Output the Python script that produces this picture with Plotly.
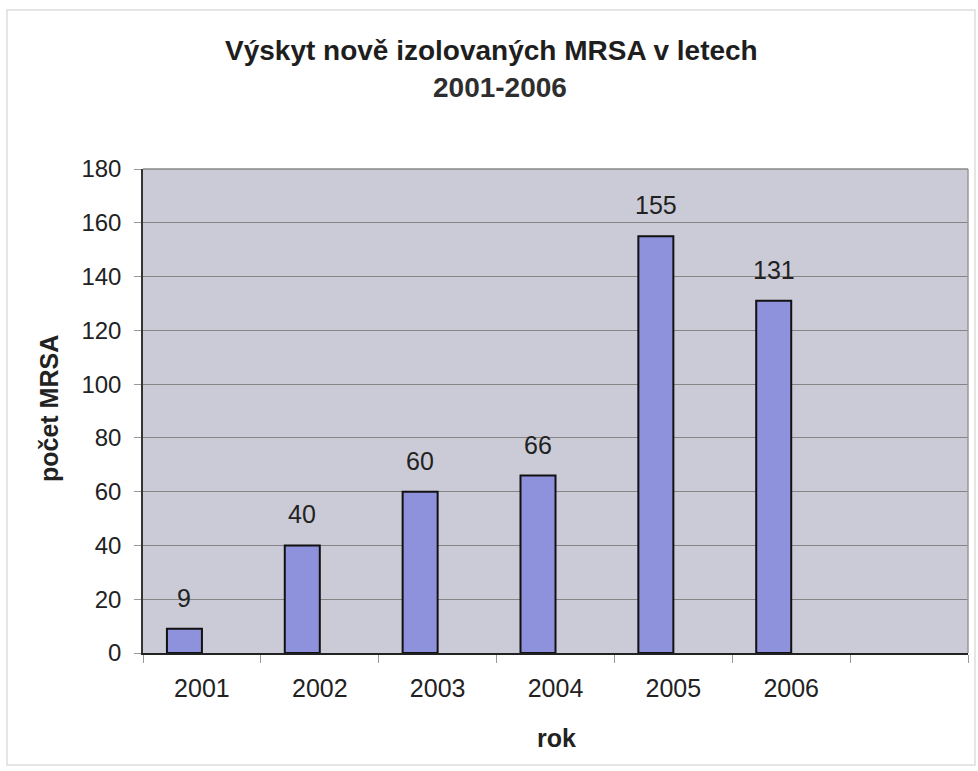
import plotly.graph_objects as go

years = ["2001", "2002", "2003", "2004", "2005", "2006"]
counts = [9, 40, 60, 66, 155, 131]
all_slots = years + [" "]
y_ticks = [0, 20, 40, 60, 80, 100, 120, 140, 160, 180]

title_line1 = "Výskyt nově izolovaných MRSA v letech"
title_line2 = "2001-2006"
y_title = "počet MRSA"
x_title = "rok"

W, H = 978, 771
L, R, T, B = 143, 968, 169, 653
pw, ph = R - L, B - T

def px(x):
    return (x - L) / pw

def py(y):
    return (B - y) / ph

font_family = "Liberation Sans, Arial, sans-serif"
bar_w = 0.297

fig = go.Figure()
fig.add_trace(go.Bar(
    x=years, y=counts,
    width=bar_w, offset=-bar_w,
    marker=dict(color="#8e92dc", line=dict(color="#111111", width=2)),
    hoverinfo="x+y",
))

label_anns = [
    dict(text=str(c), x=all_slots.index(yr) - bar_w / 2, y=c, xref="x", yref="y", yshift=31,
         xanchor="center", yanchor="middle", showarrow=False,
         font=dict(size=25, color="#222222"))
    for yr, c in zip(years, counts)
]

fig.update_layout(
    width=W, height=H,
    margin=dict(l=L, r=W - R, t=T, b=H - B, pad=0),
    paper_bgcolor="white", plot_bgcolor="#cbcbd7",
    showlegend=False,
    font=dict(family=font_family, color="#222222"),
    xaxis=dict(
        type="category", categoryorder="array", categoryarray=all_slots,
        range=[-0.5, 6.5], tickson="boundaries", ticks="outside",
        ticklen=8, tickcolor="#999999", showgrid=False,
        showline=True, linecolor="#222222", linewidth=2,
        tickfont=dict(size=25, color="#222222"),
        ticklabelstandoff=12,
    ),
    yaxis=dict(
        range=[0, 180], tickvals=y_ticks, ticks="outside", ticklen=7,
        tickcolor="#999999", showgrid=True, gridcolor="#858585", gridwidth=1,
        showline=True, linecolor="#333333", linewidth=1.5,
        zeroline=False,
        tickfont=dict(size=24, color="#222222"),
        ticklabelstandoff=8,
    ),
    annotations=label_anns + [
        dict(text="<b>" + title_line1 + "</b>", x=px(491), y=py(50), xref="paper", yref="paper",
             xanchor="center", yanchor="middle", showarrow=False,
             font=dict(size=28, color="#1e1e1e")),
        dict(text="<b>" + title_line2 + "</b>", x=px(500), y=py(88), xref="paper", yref="paper",
             xanchor="center", yanchor="middle", showarrow=False,
             font=dict(size=28, color="#2e2e2e")),
        dict(text="<b>" + y_title + "</b>", x=px(49), y=py(409), xref="paper", yref="paper",
             xanchor="center", yanchor="middle", showarrow=False, textangle=-90,
             font=dict(size=25, color="#222222")),
        dict(text="<b>" + x_title + "</b>", x=px(556), y=py(738), xref="paper", yref="paper",
             xanchor="center", yanchor="middle", showarrow=False,
             font=dict(size=25, color="#222222")),
    ],
    shapes=[
        dict(type="rect", xref="paper", yref="paper", x0=px(7), x1=px(975), y0=py(765), y1=py(10),
             line=dict(color="#dddddd", width=1.5), layer="below"),
        dict(type="line", xref="paper", yref="paper", x0=1, x1=1, y0=0, y1=1,
             line=dict(color="#999999", width=1.5)),
        dict(type="line", xref="paper", yref="paper", x0=0, x1=1, y0=1, y1=1,
             line=dict(color="#888888", width=1.5)),
    ],
)

fig.write_html("out.html")
